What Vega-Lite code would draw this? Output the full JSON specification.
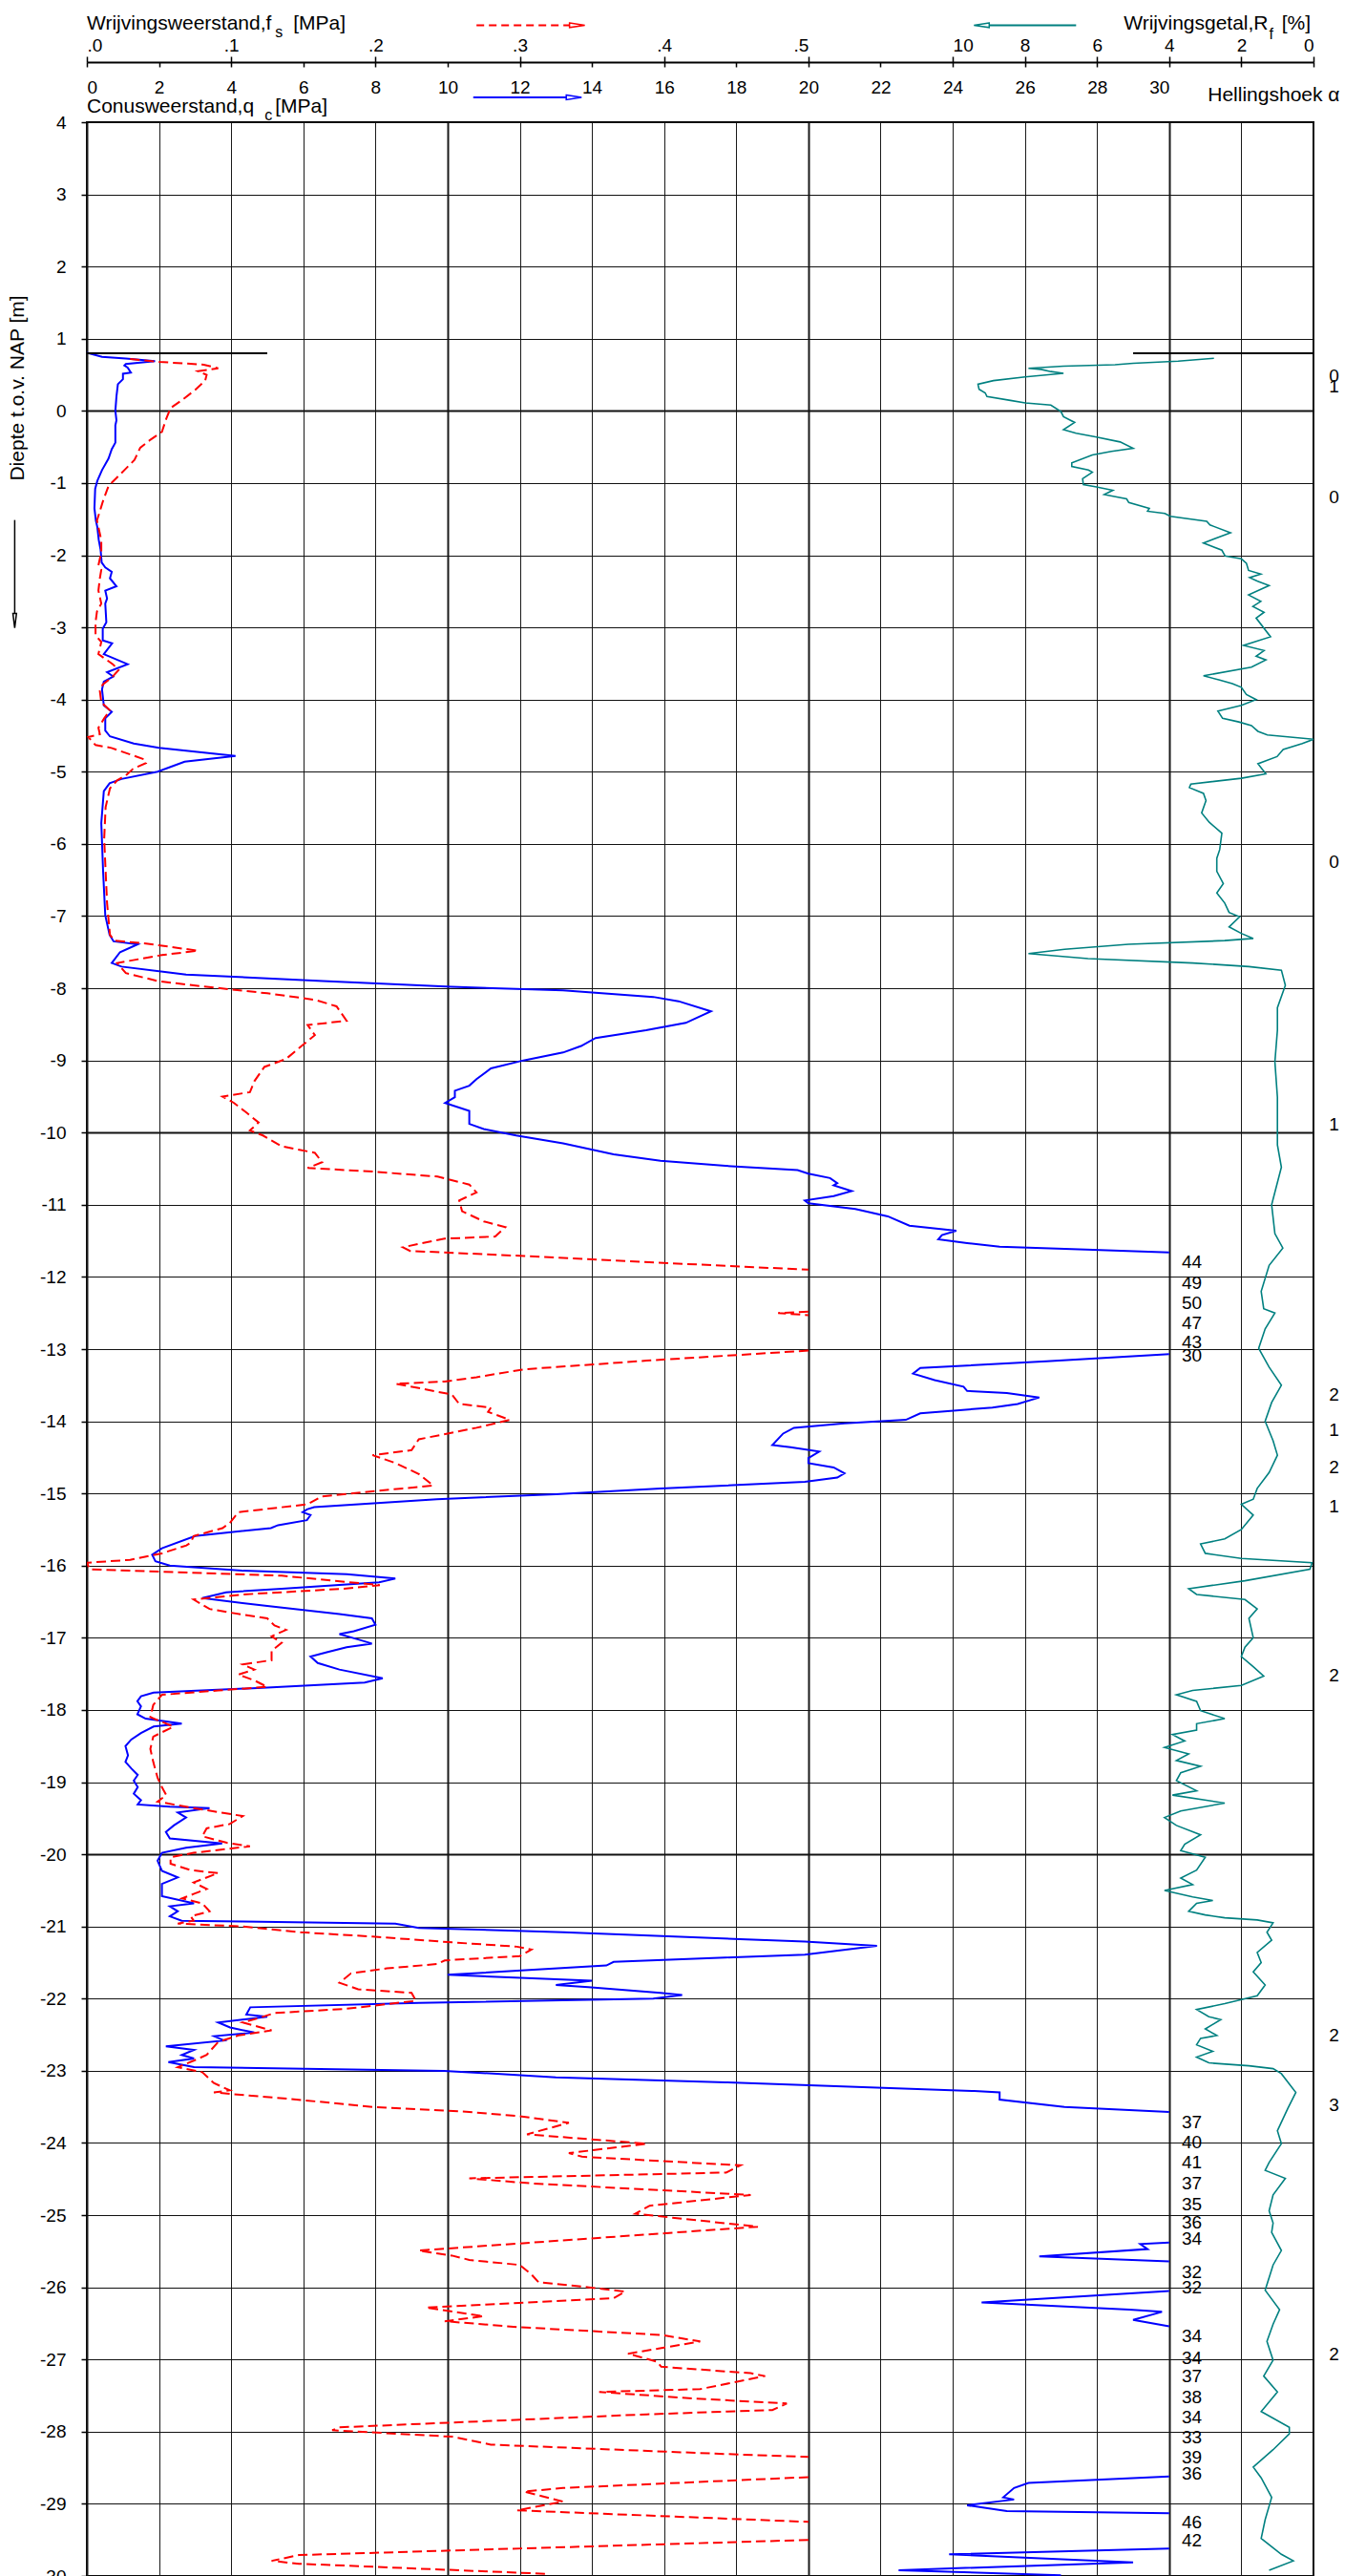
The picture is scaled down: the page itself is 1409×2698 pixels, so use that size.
{
  "$schema": "https://vega.github.io/schema/vega-lite/v6.json",
  "width": 1285,
  "height": 2570,
  "autosize": {"type": "none"},
  "padding": {"left": 91, "top": 128, "right": 33, "bottom": 0},
  "background": "white",
  "config": {
    "font": "Liberation Sans",
    "view": {"stroke": "black", "strokeWidth": 2},
    "axis": {"labelFont": "Liberation Sans", "labelColor": "black", "labelFontSize": 19, "titleFont": "Liberation Sans", "titleColor": "black", "titleFontWeight": "normal", "labelOverlap": false, "labelBound": false, "labelFlush": false},
    "text": {"font": "Liberation Sans", "color": "black"}
  },
  "datasets": {
    "qc": [
      {"d":0.806,"q":0,"s":1},{"d":0.75,"q":0.42,"s":1},{"d":0.727,"q":1.08,"s":1},{"d":0.69,"q":1.89,"s":1},{"d":0.65,"q":1.08,"s":1},{"d":0.63,"q":1.04,"s":1},{"d":0.6,"q":1.13,"s":1},{"d":0.53,"q":1.22,"s":1},{"d":0.515,"q":1.0,"s":1},{"d":0.44,"q":1.0,"s":1},{"d":0.37,"q":0.86,"s":1},{"d":0.2,"q":0.82,"s":1},{"d":0.0,"q":0.79,"s":1},{"d":-0.13,"q":0.82,"s":1},{"d":-0.2,"q":0.79,"s":1},{"d":-0.44,"q":0.79,"s":1},{"d":-0.53,"q":0.69,"s":1},{"d":-0.66,"q":0.6,"s":1},{"d":-0.82,"q":0.42,"s":1},{"d":-0.97,"q":0.29,"s":1},{"d":-1.08,"q":0.23,"s":1},{"d":-1.35,"q":0.21,"s":1},{"d":-1.52,"q":0.25,"s":1},{"d":-1.61,"q":0.29,"s":1},{"d":-1.79,"q":0.33,"s":1},{"d":-1.92,"q":0.38,"s":1},{"d":-2.1,"q":0.41,"s":1},{"d":-2.17,"q":0.51,"s":1},{"d":-2.23,"q":0.69,"s":1},{"d":-2.32,"q":0.64,"s":1},{"d":-2.43,"q":0.82,"s":1},{"d":-2.49,"q":0.51,"s":1},{"d":-2.6,"q":0.56,"s":1},{"d":-2.67,"q":0.51,"s":1},{"d":-2.93,"q":0.54,"s":1},{"d":-3.02,"q":0.44,"s":1},{"d":-3.18,"q":0.44,"s":1},{"d":-3.22,"q":0.7,"s":1},{"d":-3.37,"q":0.47,"s":1},{"d":-3.51,"q":1.13,"s":1},{"d":-3.62,"q":0.56,"s":1},{"d":-3.68,"q":0.73,"s":1},{"d":-3.75,"q":0.47,"s":1},{"d":-3.86,"q":0.42,"s":1},{"d":-4.08,"q":0.47,"s":1},{"d":-4.17,"q":0.69,"s":1},{"d":-4.26,"q":0.51,"s":1},{"d":-4.43,"q":0.51,"s":1},{"d":-4.51,"q":0.64,"s":1},{"d":-4.61,"q":1.3,"s":1},{"d":-4.67,"q":2.0,"s":1},{"d":-4.78,"q":4.12,"s":1},{"d":-4.86,"q":2.71,"s":1},{"d":-5.0,"q":1.96,"s":1},{"d":-5.1,"q":0.96,"s":1},{"d":-5.16,"q":0.63,"s":1},{"d":-5.27,"q":0.47,"s":1},{"d":-5.71,"q":0.4,"s":1},{"d":-6.38,"q":0.45,"s":1},{"d":-6.99,"q":0.51,"s":1},{"d":-7.26,"q":0.63,"s":1},{"d":-7.35,"q":0.74,"s":1},{"d":-7.39,"q":1.41,"s":1},{"d":-7.5,"q":0.92,"s":1},{"d":-7.65,"q":0.69,"s":1},{"d":-7.7,"q":0.96,"s":1},{"d":-7.81,"q":2.75,"s":1},{"d":-7.9,"q":6.54,"s":1},{"d":-7.98,"q":10.1,"s":1},{"d":-8.03,"q":13.2,"s":1},{"d":-8.12,"q":15.7,"s":1},{"d":-8.18,"q":16.4,"s":1},{"d":-8.32,"q":17.3,"s":1},{"d":-8.48,"q":16.6,"s":1},{"d":-8.58,"q":15.5,"s":1},{"d":-8.69,"q":14.1,"s":1},{"d":-8.8,"q":13.7,"s":1},{"d":-8.89,"q":13.2,"s":1},{"d":-9.0,"q":12.1,"s":1},{"d":-9.11,"q":11.2,"s":1},{"d":-9.26,"q":10.8,"s":1},{"d":-9.35,"q":10.6,"s":1},{"d":-9.42,"q":10.2,"s":1},{"d":-9.51,"q":10.2,"s":1},{"d":-9.59,"q":9.93,"s":1},{"d":-9.7,"q":10.6,"s":1},{"d":-9.88,"q":10.6,"s":1},{"d":-9.95,"q":11.0,"s":1},{"d":-10.04,"q":11.9,"s":1},{"d":-10.15,"q":13.2,"s":1},{"d":-10.3,"q":14.6,"s":1},{"d":-10.39,"q":15.9,"s":1},{"d":-10.46,"q":17.7,"s":1},{"d":-10.52,"q":19.7,"s":1},{"d":-10.57,"q":20.0,"s":1},{"d":-10.63,"q":20.6,"s":1},{"d":-10.7,"q":20.8,"s":1},{"d":-10.73,"q":20.7,"s":1},{"d":-10.81,"q":21.2,"s":1},{"d":-10.88,"q":20.7,"s":1},{"d":-10.94,"q":19.9,"s":1},{"d":-10.98,"q":20.0,"s":1},{"d":-11.06,"q":21.3,"s":1},{"d":-11.16,"q":22.2,"s":1},{"d":-11.29,"q":22.8,"s":1},{"d":-11.36,"q":24.1,"s":1},{"d":-11.42,"q":23.7,"s":1},{"d":-11.48,"q":23.6,"s":1},{"d":-11.53,"q":24.4,"s":1},{"d":-11.58,"q":25.3,"s":1},{"d":-11.62,"q":27.7,"s":1},{"d":-11.66,"q":30,"s":1},
      {"d":-13.07,"q":30,"s":2},{"d":-13.17,"q":26.6,"s":2},{"d":-13.26,"q":23.1,"s":2},{"d":-13.34,"q":22.9,"s":2},{"d":-13.43,"q":23.5,"s":2},{"d":-13.52,"q":24.3,"s":2},{"d":-13.58,"q":24.4,"s":2},{"d":-13.61,"q":25.5,"s":2},{"d":-13.67,"q":26.4,"s":2},{"d":-13.76,"q":25.8,"s":2},{"d":-13.81,"q":25.1,"s":2},{"d":-13.89,"q":23.1,"s":2},{"d":-13.98,"q":22.7,"s":2},{"d":-14.03,"q":21.0,"s":2},{"d":-14.09,"q":19.6,"s":2},{"d":-14.17,"q":19.3,"s":2},{"d":-14.33,"q":19.0,"s":2},{"d":-14.36,"q":19.5,"s":2},{"d":-14.42,"q":20.3,"s":2},{"d":-14.51,"q":20.0,"s":2},{"d":-14.58,"q":20.0,"s":2},{"d":-14.64,"q":20.7,"s":2},{"d":-14.72,"q":21.0,"s":2},{"d":-14.78,"q":20.8,"s":2},{"d":-14.84,"q":19.9,"s":2},{"d":-14.93,"q":15.9,"s":2},{"d":-15.01,"q":13.0,"s":2},{"d":-15.08,"q":9.7,"s":2},{"d":-15.19,"q":6.3,"s":2},{"d":-15.22,"q":6.1,"s":2},{"d":-15.26,"q":5.98,"s":2},{"d":-15.3,"q":6.2,"s":2},{"d":-15.37,"q":6.1,"s":2},{"d":-15.44,"q":5.3,"s":2},{"d":-15.48,"q":5.1,"s":2},{"d":-15.59,"q":3.0,"s":2},{"d":-15.76,"q":2.08,"s":2},{"d":-15.85,"q":1.81,"s":2},{"d":-15.94,"q":1.9,"s":2},{"d":-16.0,"q":2.3,"s":2},{"d":-16.07,"q":4.3,"s":2},{"d":-16.12,"q":7.2,"s":2},{"d":-16.18,"q":8.55,"s":2},{"d":-16.23,"q":8.1,"s":2},{"d":-16.32,"q":5.4,"s":2},{"d":-16.37,"q":3.86,"s":2},{"d":-16.45,"q":3.2,"s":2},{"d":-16.56,"q":5.0,"s":2},{"d":-16.67,"q":7.0,"s":2},{"d":-16.73,"q":7.9,"s":2},{"d":-16.82,"q":8.0,"s":2},{"d":-16.91,"q":7.4,"s":2},{"d":-16.95,"q":7.0,"s":2},{"d":-17.02,"q":7.5,"s":2},{"d":-17.08,"q":7.9,"s":2},{"d":-17.13,"q":7.2,"s":2},{"d":-17.2,"q":6.65,"s":2},{"d":-17.26,"q":6.2,"s":2},{"d":-17.35,"q":6.4,"s":2},{"d":-17.44,"q":7.0,"s":2},{"d":-17.56,"q":8.2,"s":2},{"d":-17.62,"q":7.7,"s":2},{"d":-17.69,"q":5.0,"s":2},{"d":-17.76,"q":1.85,"s":2},{"d":-17.81,"q":1.5,"s":2},{"d":-17.88,"q":1.4,"s":2},{"d":-17.95,"q":1.5,"s":2},{"d":-18.06,"q":1.4,"s":2},{"d":-18.12,"q":1.63,"s":2},{"d":-18.19,"q":2.63,"s":2},{"d":-18.23,"q":1.85,"s":2},{"d":-18.32,"q":1.5,"s":2},{"d":-18.41,"q":1.23,"s":2},{"d":-18.5,"q":1.07,"s":2},{"d":-18.63,"q":1.14,"s":2},{"d":-18.72,"q":1.07,"s":2},{"d":-18.81,"q":1.23,"s":2},{"d":-18.9,"q":1.41,"s":2},{"d":-18.98,"q":1.3,"s":2},{"d":-19.07,"q":1.41,"s":2},{"d":-19.16,"q":1.3,"s":2},{"d":-19.25,"q":1.5,"s":2},{"d":-19.31,"q":1.41,"s":2},{"d":-19.34,"q":2.3,"s":2},{"d":-19.36,"q":3.4,"s":2},{"d":-19.42,"q":2.52,"s":2},{"d":-19.49,"q":2.75,"s":2},{"d":-19.6,"q":2.41,"s":2},{"d":-19.69,"q":2.19,"s":2},{"d":-19.78,"q":2.3,"s":2},{"d":-19.85,"q":3.75,"s":2},{"d":-19.91,"q":2.75,"s":2},{"d":-19.98,"q":2.08,"s":2},{"d":-20.09,"q":1.96,"s":2},{"d":-20.23,"q":2.08,"s":2},{"d":-20.32,"q":2.52,"s":2},{"d":-20.41,"q":2.08,"s":2},{"d":-20.58,"q":2.08,"s":2},{"d":-20.68,"q":2.97,"s":2},{"d":-20.72,"q":2.3,"s":2},{"d":-20.79,"q":2.52,"s":2},{"d":-20.86,"q":2.3,"s":2},{"d":-20.92,"q":2.63,"s":2},{"d":-20.93,"q":4.3,"s":2},{"d":-20.96,"q":8.55,"s":2},{"d":-21.02,"q":9.2,"s":2},{"d":-21.08,"q":13.2,"s":2},{"d":-21.15,"q":16.8,"s":2},{"d":-21.21,"q":19.9,"s":2},{"d":-21.27,"q":21.9,"s":2},{"d":-21.39,"q":19.9,"s":2},{"d":-21.43,"q":17.7,"s":2},{"d":-21.49,"q":14.6,"s":2},{"d":-21.54,"q":14.4,"s":2},{"d":-21.67,"q":10.0,"s":2},{"d":-21.75,"q":14.0,"s":2},{"d":-21.81,"q":13.0,"s":2},{"d":-21.84,"q":13.9,"s":2},{"d":-21.92,"q":15.9,"s":2},{"d":-21.95,"q":16.5,"s":2},{"d":-22.0,"q":15.7,"s":2},{"d":-22.06,"q":9.2,"s":2},{"d":-22.12,"q":4.53,"s":2},{"d":-22.22,"q":4.42,"s":2},{"d":-22.25,"q":5.0,"s":2},{"d":-22.28,"q":4.5,"s":2},{"d":-22.33,"q":3.64,"s":2},{"d":-22.4,"q":3.97,"s":2},{"d":-22.47,"q":4.64,"s":2},{"d":-22.52,"q":3.53,"s":2},{"d":-22.58,"q":3.8,"s":2},{"d":-22.66,"q":2.19,"s":2},{"d":-22.71,"q":2.97,"s":2},{"d":-22.78,"q":2.63,"s":2},{"d":-22.83,"q":2.97,"s":2},{"d":-22.88,"q":2.26,"s":2},{"d":-22.95,"q":2.97,"s":2},{"d":-23.0,"q":9.9,"s":2},{"d":-23.09,"q":13.0,"s":2},{"d":-23.16,"q":17.7,"s":2},{"d":-23.28,"q":24.6,"s":2},{"d":-23.3,"q":25.3,"s":2},{"d":-23.4,"q":25.3,"s":2},{"d":-23.5,"q":27.1,"s":2},{"d":-23.57,"q":30,"s":2},
      {"d":-25.38,"q":30,"s":3},{"d":-25.4,"q":29.2,"s":3},{"d":-25.47,"q":29.4,"s":3},{"d":-25.57,"q":26.4,"s":3},{"d":-25.64,"q":30,"s":3},
      {"d":-26.05,"q":30,"s":4},{"d":-26.21,"q":24.8,"s":4},{"d":-26.31,"q":28.9,"s":4},{"d":-26.34,"q":29.8,"s":4},{"d":-26.45,"q":29.0,"s":4},{"d":-26.54,"q":30,"s":4},
      {"d":-28.62,"q":30,"s":5},{"d":-28.71,"q":26.1,"s":5},{"d":-28.78,"q":25.7,"s":5},{"d":-28.91,"q":25.4,"s":5},{"d":-28.94,"q":25.7,"s":5},{"d":-29.02,"q":24.4,"s":5},{"d":-29.1,"q":25.5,"s":5},{"d":-29.13,"q":30,"s":5},
      {"d":-29.62,"q":30,"s":6},{"d":-29.7,"q":23.9,"s":6},{"d":-29.81,"q":29.0,"s":6},{"d":-29.92,"q":22.5,"s":6},{"d":-29.99,"q":27,"s":6}
    ],
    "fs": [
      {"d":0.72,"f":0.03,"s":1},{"d":0.68,"f":0.05,"s":1},{"d":0.64,"f":0.081,"s":1},{"d":0.59,"f":0.091,"s":1},{"d":0.55,"f":0.077,"s":1},{"d":0.5,"f":0.083,"s":1},{"d":0.42,"f":0.082,"s":1},{"d":0.29,"f":0.075,"s":1},{"d":0.15,"f":0.066,"s":1},{"d":0.04,"f":0.058,"s":1},{"d":-0.11,"f":0.055,"s":1},{"d":-0.29,"f":0.052,"s":1},{"d":-0.4,"f":0.044,"s":1},{"d":-0.51,"f":0.037,"s":1},{"d":-0.68,"f":0.033,"s":1},{"d":-0.82,"f":0.026,"s":1},{"d":-1.04,"f":0.015,"s":1},{"d":-1.26,"f":0.011,"s":1},{"d":-1.52,"f":0.007,"s":1},{"d":-1.79,"f":0.01,"s":1},{"d":-1.96,"f":0.01,"s":1},{"d":-2.14,"f":0.008,"s":1},{"d":-2.2,"f":0.01,"s":1},{"d":-2.32,"f":0.009,"s":1},{"d":-2.49,"f":0.008,"s":1},{"d":-2.67,"f":0.01,"s":1},{"d":-2.78,"f":0.007,"s":1},{"d":-2.93,"f":0.006,"s":1},{"d":-3.11,"f":0.006,"s":1},{"d":-3.2,"f":0.01,"s":1},{"d":-3.37,"f":0.008,"s":1},{"d":-3.51,"f":0.018,"s":1},{"d":-3.59,"f":0.022,"s":1},{"d":-3.7,"f":0.017,"s":1},{"d":-3.79,"f":0.011,"s":1},{"d":-3.88,"f":0.009,"s":1},{"d":-4.04,"f":0.01,"s":1},{"d":-4.15,"f":0.016,"s":1},{"d":-4.26,"f":0.012,"s":1},{"d":-4.39,"f":0.008,"s":1},{"d":-4.48,"f":0.009,"s":1},{"d":-4.52,"f":0.001,"s":1},{"d":-4.63,"f":0.006,"s":1},{"d":-4.67,"f":0.017,"s":1},{"d":-4.78,"f":0.033,"s":1},{"d":-4.83,"f":0.04,"s":1},{"d":-4.88,"f":0.041,"s":1},{"d":-4.96,"f":0.032,"s":1},{"d":-5.05,"f":0.027,"s":1},{"d":-5.12,"f":0.021,"s":1},{"d":-5.23,"f":0.016,"s":1},{"d":-5.49,"f":0.013,"s":1},{"d":-5.93,"f":0.012,"s":1},{"d":-6.38,"f":0.013,"s":1},{"d":-6.82,"f":0.014,"s":1},{"d":-7.26,"f":0.016,"s":1},{"d":-7.34,"f":0.019,"s":1},{"d":-7.38,"f":0.041,"s":1},{"d":-7.48,"f":0.077,"s":1},{"d":-7.54,"f":0.052,"s":1},{"d":-7.65,"f":0.021,"s":1},{"d":-7.79,"f":0.027,"s":1},{"d":-7.9,"f":0.049,"s":1},{"d":-7.96,"f":0.074,"s":1},{"d":-8.07,"f":0.125,"s":1},{"d":-8.16,"f":0.158,"s":1},{"d":-8.25,"f":0.173,"s":1},{"d":-8.45,"f":0.18,"s":1},{"d":-8.51,"f":0.153,"s":1},{"d":-8.65,"f":0.158,"s":1},{"d":-8.78,"f":0.15,"s":1},{"d":-8.98,"f":0.138,"s":1},{"d":-9.09,"f":0.123,"s":1},{"d":-9.29,"f":0.116,"s":1},{"d":-9.44,"f":0.113,"s":1},{"d":-9.5,"f":0.094,"s":1},{"d":-9.59,"f":0.102,"s":1},{"d":-9.73,"f":0.111,"s":1},{"d":-9.86,"f":0.119,"s":1},{"d":-9.97,"f":0.113,"s":1},{"d":-10.04,"f":0.122,"s":1},{"d":-10.19,"f":0.135,"s":1},{"d":-10.28,"f":0.158,"s":1},{"d":-10.41,"f":0.163,"s":1},{"d":-10.49,"f":0.153,"s":1},{"d":-10.54,"f":0.198,"s":1},{"d":-10.61,"f":0.243,"s":1},{"d":-10.72,"f":0.265,"s":1},{"d":-10.83,"f":0.27,"s":1},{"d":-10.94,"f":0.258,"s":1},{"d":-11.09,"f":0.26,"s":1},{"d":-11.23,"f":0.275,"s":1},{"d":-11.31,"f":0.29,"s":1},{"d":-11.44,"f":0.283,"s":1},{"d":-11.47,"f":0.248,"s":1},{"d":-11.54,"f":0.23,"s":1},{"d":-11.59,"f":0.219,"s":1},{"d":-11.64,"f":0.224,"s":1},{"d":-11.71,"f":0.303,"s":1},{"d":-11.82,"f":0.415,"s":1},{"d":-11.9,"f":0.5,"s":1},
      {"d":-12.48,"f":0.5,"s":2},{"d":-12.5,"f":0.479,"s":2},{"d":-12.53,"f":0.5,"s":2},
      {"d":-13.02,"f":0.5,"s":3},{"d":-13.16,"f":0.388,"s":3},{"d":-13.28,"f":0.303,"s":3},{"d":-13.39,"f":0.27,"s":3},{"d":-13.45,"f":0.248,"s":3},{"d":-13.48,"f":0.214,"s":3},{"d":-13.54,"f":0.23,"s":3},{"d":-13.63,"f":0.253,"s":3},{"d":-13.76,"f":0.258,"s":3},{"d":-13.81,"f":0.28,"s":3},{"d":-13.87,"f":0.278,"s":3},{"d":-13.98,"f":0.293,"s":3},{"d":-14.09,"f":0.27,"s":3},{"d":-14.25,"f":0.23,"s":3},{"d":-14.4,"f":0.225,"s":3},{"d":-14.47,"f":0.198,"s":3},{"d":-14.58,"f":0.214,"s":3},{"d":-14.73,"f":0.23,"s":3},{"d":-14.89,"f":0.24,"s":3},{"d":-14.93,"f":0.219,"s":3},{"d":-15.04,"f":0.163,"s":3},{"d":-15.15,"f":0.153,"s":3},{"d":-15.26,"f":0.105,"s":3},{"d":-15.41,"f":0.099,"s":3},{"d":-15.48,"f":0.094,"s":3},{"d":-15.59,"f":0.074,"s":3},{"d":-15.68,"f":0.072,"s":3},{"d":-15.72,"f":0.069,"s":3},{"d":-15.83,"f":0.052,"s":3},{"d":-15.92,"f":0.03,"s":3},{"d":-15.96,"f":0.0,"s":3},{"d":-16.05,"f":0.002,"s":3},{"d":-16.14,"f":0.135,"s":3},{"d":-16.27,"f":0.203,"s":3},{"d":-16.32,"f":0.178,"s":3},{"d":-16.4,"f":0.108,"s":3},{"d":-16.47,"f":0.074,"s":3},{"d":-16.6,"f":0.085,"s":3},{"d":-16.65,"f":0.099,"s":3},{"d":-16.73,"f":0.125,"s":3},{"d":-16.83,"f":0.13,"s":3},{"d":-16.89,"f":0.138,"s":3},{"d":-16.98,"f":0.128,"s":3},{"d":-17.07,"f":0.135,"s":3},{"d":-17.18,"f":0.128,"s":3},{"d":-17.31,"f":0.128,"s":3},{"d":-17.37,"f":0.108,"s":3},{"d":-17.44,"f":0.116,"s":3},{"d":-17.51,"f":0.105,"s":3},{"d":-17.59,"f":0.116,"s":3},{"d":-17.68,"f":0.125,"s":3},{"d":-17.73,"f":0.091,"s":3},{"d":-17.79,"f":0.052,"s":3},{"d":-17.93,"f":0.046,"s":3},{"d":-18.1,"f":0.044,"s":3},{"d":-18.23,"f":0.06,"s":3},{"d":-18.37,"f":0.046,"s":3},{"d":-18.54,"f":0.044,"s":3},{"d":-18.72,"f":0.046,"s":3},{"d":-18.94,"f":0.049,"s":3},{"d":-19.07,"f":0.052,"s":3},{"d":-19.18,"f":0.055,"s":3},{"d":-19.27,"f":0.049,"s":3},{"d":-19.36,"f":0.074,"s":3},{"d":-19.47,"f":0.108,"s":3},{"d":-19.58,"f":0.099,"s":3},{"d":-19.64,"f":0.083,"s":3},{"d":-19.75,"f":0.08,"s":3},{"d":-19.84,"f":0.097,"s":3},{"d":-19.89,"f":0.113,"s":3},{"d":-19.98,"f":0.074,"s":3},{"d":-20.04,"f":0.058,"s":3},{"d":-20.13,"f":0.058,"s":3},{"d":-20.22,"f":0.072,"s":3},{"d":-20.26,"f":0.091,"s":3},{"d":-20.39,"f":0.074,"s":3},{"d":-20.48,"f":0.083,"s":3},{"d":-20.55,"f":0.074,"s":3},{"d":-20.61,"f":0.066,"s":3},{"d":-20.68,"f":0.08,"s":3},{"d":-20.79,"f":0.085,"s":3},{"d":-20.86,"f":0.072,"s":3},{"d":-20.92,"f":0.074,"s":3},{"d":-20.96,"f":0.063,"s":3},{"d":-21.0,"f":0.108,"s":3},{"d":-21.08,"f":0.148,"s":3},{"d":-21.14,"f":0.198,"s":3},{"d":-21.22,"f":0.253,"s":3},{"d":-21.28,"f":0.298,"s":3},{"d":-21.32,"f":0.308,"s":3},{"d":-21.41,"f":0.3,"s":3},{"d":-21.47,"f":0.248,"s":3},{"d":-21.52,"f":0.243,"s":3},{"d":-21.58,"f":0.208,"s":3},{"d":-21.65,"f":0.183,"s":3},{"d":-21.78,"f":0.175,"s":3},{"d":-21.87,"f":0.188,"s":3},{"d":-21.92,"f":0.225,"s":3},{"d":-22.03,"f":0.228,"s":3},{"d":-22.14,"f":0.18,"s":3},{"d":-22.2,"f":0.13,"s":3},{"d":-22.27,"f":0.119,"s":3},{"d":-22.33,"f":0.108,"s":3},{"d":-22.44,"f":0.128,"s":3},{"d":-22.51,"f":0.105,"s":3},{"d":-22.6,"f":0.091,"s":3},{"d":-22.78,"f":0.083,"s":3},{"d":-22.86,"f":0.074,"s":3},{"d":-22.95,"f":0.063,"s":3},{"d":-23.02,"f":0.08,"s":3},{"d":-23.17,"f":0.088,"s":3},{"d":-23.27,"f":0.099,"s":3},{"d":-23.3,"f":0.088,"s":3},{"d":-23.39,"f":0.141,"s":3},{"d":-23.5,"f":0.198,"s":3},{"d":-23.57,"f":0.265,"s":3},{"d":-23.63,"f":0.3,"s":3},{"d":-23.72,"f":0.334,"s":3},{"d":-23.88,"f":0.305,"s":3},{"d":-24.01,"f":0.388,"s":3},{"d":-24.14,"f":0.334,"s":3},{"d":-24.19,"f":0.343,"s":3},{"d":-24.31,"f":0.453,"s":3},{"d":-24.41,"f":0.443,"s":3},{"d":-24.49,"f":0.265,"s":3},{"d":-24.56,"f":0.308,"s":3},{"d":-24.72,"f":0.46,"s":3},{"d":-24.87,"f":0.39,"s":3},{"d":-24.98,"f":0.38,"s":3},{"d":-25.16,"f":0.465,"s":3},{"d":-25.49,"f":0.23,"s":3},{"d":-25.56,"f":0.253,"s":3},{"d":-25.62,"f":0.265,"s":3},{"d":-25.69,"f":0.3,"s":3},{"d":-25.82,"f":0.308,"s":3},{"d":-25.93,"f":0.313,"s":3},{"d":-26.0,"f":0.348,"s":3},{"d":-26.06,"f":0.373,"s":3},{"d":-26.15,"f":0.365,"s":3},{"d":-26.28,"f":0.235,"s":3},{"d":-26.4,"f":0.275,"s":3},{"d":-26.47,"f":0.248,"s":3},{"d":-26.55,"f":0.298,"s":3},{"d":-26.66,"f":0.398,"s":3},{"d":-26.75,"f":0.425,"s":3},{"d":-26.92,"f":0.375,"s":3},{"d":-27.03,"f":0.395,"s":3},{"d":-27.1,"f":0.398,"s":3},{"d":-27.19,"f":0.46,"s":3},{"d":-27.23,"f":0.47,"s":3},{"d":-27.41,"f":0.425,"s":3},{"d":-27.45,"f":0.355,"s":3},{"d":-27.54,"f":0.42,"s":3},{"d":-27.61,"f":0.485,"s":3},{"d":-27.7,"f":0.475,"s":3},{"d":-27.76,"f":0.388,"s":3},{"d":-27.94,"f":0.175,"s":3},{"d":-27.98,"f":0.17,"s":3},{"d":-28.07,"f":0.253,"s":3},{"d":-28.18,"f":0.28,"s":3},{"d":-28.31,"f":0.443,"s":3},{"d":-28.35,"f":0.5,"s":3},
      {"d":-28.63,"f":0.5,"s":4},{"d":-28.78,"f":0.33,"s":4},{"d":-28.83,"f":0.303,"s":4},{"d":-28.97,"f":0.33,"s":4},{"d":-29.09,"f":0.298,"s":4},{"d":-29.25,"f":0.5,"s":4},
      {"d":-29.5,"f":0.5,"s":5},{"d":-29.71,"f":0.147,"s":5},{"d":-29.79,"f":0.128,"s":5},{"d":-29.83,"f":0.147,"s":5},{"d":-29.97,"f":0.318,"s":5}
    ],
    "rf": [
      {"d":0.73,"r":2.76},{"d":0.69,"r":3.75},{"d":0.66,"r":5.0},{"d":0.64,"r":5.5},{"d":0.62,"r":6.93},{"d":0.59,"r":7.9},{"d":0.575,"r":7.55},{"d":0.545,"r":7.28},{"d":0.52,"r":6.93},{"d":0.47,"r":7.99},{"d":0.42,"r":8.87},{"d":0.37,"r":9.3},{"d":0.3,"r":9.27},{"d":0.25,"r":9.1},{"d":0.2,"r":9.05},{"d":0.145,"r":8.4},{"d":0.11,"r":7.99},{"d":0.08,"r":7.28},{"d":-0.01,"r":7.0},{"d":-0.08,"r":6.93},{"d":-0.16,"r":6.62},{"d":-0.26,"r":6.93},{"d":-0.31,"r":6.58},{"d":-0.36,"r":6.05},{"d":-0.43,"r":5.36},{"d":-0.52,"r":5.0},{"d":-0.56,"r":5.6},{"d":-0.61,"r":6.13},{"d":-0.72,"r":6.7},{"d":-0.77,"r":6.7},{"d":-0.82,"r":6.24},{"d":-0.85,"r":6.13},{"d":-0.94,"r":6.4},{"d":-1.02,"r":6.38},{"d":-1.05,"r":6.05},{"d":-1.1,"r":5.56},{"d":-1.16,"r":5.8},{"d":-1.22,"r":5.18},{"d":-1.27,"r":5.12},{"d":-1.35,"r":4.55},{"d":-1.39,"r":4.6},{"d":-1.42,"r":4.12},{"d":-1.46,"r":3.97},{"d":-1.53,"r":2.96},{"d":-1.58,"r":2.87},{"d":-1.69,"r":2.3},{"d":-1.83,"r":3.05},{"d":-1.93,"r":2.54},{"d":-2.01,"r":2.45},{"d":-2.05,"r":2.0},{"d":-2.11,"r":1.86},{"d":-2.21,"r":1.8},{"d":-2.26,"r":1.46},{"d":-2.31,"r":1.77},{"d":-2.36,"r":1.55},{"d":-2.42,"r":1.23},{"d":-2.55,"r":1.8},{"d":-2.64,"r":1.46},{"d":-2.71,"r":1.68},{"d":-2.79,"r":1.37},{"d":-2.87,"r":1.59},{"d":-3.13,"r":1.19},{"d":-3.25,"r":1.94},{"d":-3.32,"r":1.37},{"d":-3.4,"r":1.59},{"d":-3.45,"r":1.32},{"d":-3.55,"r":1.72},{"d":-3.67,"r":3.05},{"d":-3.73,"r":2.6},{"d":-3.78,"r":2.25},{"d":-3.83,"r":2.0},{"d":-3.93,"r":1.86},{"d":-4.0,"r":1.59},{"d":-4.08,"r":2.0},{"d":-4.16,"r":2.65},{"d":-4.26,"r":2.52},{"d":-4.31,"r":2.07},{"d":-4.36,"r":1.72},{"d":-4.44,"r":1.54},{"d":-4.49,"r":1.28},{"d":-4.55,"r":0.0},{"d":-4.61,"r":0.31},{"d":-4.69,"r":0.84},{"d":-4.79,"r":1.01},{"d":-4.89,"r":1.54},{"d":-5.03,"r":1.32},{"d":-5.09,"r":2.0},{"d":-5.17,"r":3.4},{"d":-5.22,"r":3.44},{"d":-5.3,"r":3.05},{"d":-5.4,"r":2.98},{"d":-5.57,"r":3.1},{"d":-5.7,"r":2.89},{"d":-5.85,"r":2.54},{"d":-6.08,"r":2.6},{"d":-6.2,"r":2.68},{"d":-6.38,"r":2.68},{"d":-6.55,"r":2.5},{"d":-6.68,"r":2.68},{"d":-6.82,"r":2.46},{"d":-6.95,"r":2.34},{"d":-7.01,"r":2.05},{"d":-7.15,"r":2.34},{"d":-7.24,"r":2.0},{"d":-7.31,"r":1.67},{"d":-7.34,"r":2.46},{"d":-7.39,"r":5.13},{"d":-7.46,"r":6.9},{"d":-7.52,"r":7.9},{"d":-7.59,"r":6.25},{"d":-7.65,"r":3.35},{"d":-7.7,"r":1.79},{"d":-7.75,"r":0.89},{"d":-7.96,"r":0.78},{"d":-8.27,"r":1.0},{"d":-8.58,"r":1.0},{"d":-9.02,"r":1.07},{"d":-9.51,"r":1.0},{"d":-10.17,"r":1.0},{"d":-10.48,"r":0.89},{"d":-11.0,"r":1.16},{"d":-11.4,"r":1.07},{"d":-11.6,"r":0.85},{"d":-11.84,"r":1.23},{"d":-12.2,"r":1.45},{"d":-12.44,"r":1.38},{"d":-12.5,"r":1.07},{"d":-12.72,"r":1.34},{"d":-12.99,"r":1.52},{"d":-13.25,"r":1.23},{"d":-13.5,"r":0.89},{"d":-13.74,"r":1.16},{"d":-14.0,"r":1.34},{"d":-14.27,"r":1.12},{"d":-14.47,"r":1.0},{"d":-14.71,"r":1.23},{"d":-14.93,"r":1.56},{"d":-15.08,"r":1.67},{"d":-15.15,"r":2.0},{"d":-15.3,"r":1.67},{"d":-15.5,"r":2.0},{"d":-15.63,"r":2.46},{"d":-15.7,"r":3.13},{"d":-15.83,"r":3.0},{"d":-15.9,"r":2.0},{"d":-15.96,"r":0.04},{"d":-16.05,"r":0.1},{"d":-16.21,"r":1.9},{"d":-16.32,"r":3.46},{"d":-16.4,"r":3.24},{"d":-16.47,"r":1.9},{"d":-16.6,"r":1.56},{"d":-16.73,"r":1.79},{"d":-17.0,"r":1.67},{"d":-17.13,"r":1.9},{"d":-17.26,"r":2.0},{"d":-17.4,"r":1.67},{"d":-17.53,"r":1.38},{"d":-17.66,"r":2.0},{"d":-17.73,"r":3.35},{"d":-17.79,"r":3.8},{"d":-17.88,"r":3.24},{"d":-18.01,"r":3.13},{"d":-18.12,"r":2.46},{"d":-18.19,"r":3.24},{"d":-18.28,"r":3.24},{"d":-18.34,"r":3.91},{"d":-18.43,"r":3.57},{"d":-18.52,"r":4.13},{"d":-18.61,"r":3.46},{"d":-18.7,"r":3.8},{"d":-18.78,"r":3.13},{"d":-18.87,"r":3.68},{"d":-18.98,"r":3.8},{"d":-19.12,"r":3.24},{"d":-19.18,"r":3.91},{"d":-19.29,"r":2.46},{"d":-19.4,"r":3.68},{"d":-19.49,"r":4.13},{"d":-19.6,"r":3.8},{"d":-19.73,"r":3.13},{"d":-19.86,"r":3.57},{"d":-19.95,"r":3.68},{"d":-20.04,"r":3.0},{"d":-20.22,"r":3.24},{"d":-20.33,"r":3.68},{"d":-20.42,"r":3.35},{"d":-20.5,"r":4.13},{"d":-20.59,"r":3.35},{"d":-20.64,"r":2.79},{"d":-20.68,"r":3.24},{"d":-20.79,"r":3.46},{"d":-20.84,"r":3.0},{"d":-20.88,"r":2.46},{"d":-20.91,"r":1.56},{"d":-20.95,"r":1.12},{"d":-21.08,"r":1.29},{"d":-21.19,"r":1.16},{"d":-21.36,"r":1.56},{"d":-21.5,"r":1.45},{"d":-21.63,"r":1.67},{"d":-21.81,"r":1.34},{"d":-21.96,"r":1.56},{"d":-22.07,"r":2.46},{"d":-22.15,"r":3.24},{"d":-22.25,"r":2.9},{"d":-22.29,"r":2.57},{"d":-22.42,"r":3.0},{"d":-22.51,"r":2.68},{"d":-22.55,"r":3.13},{"d":-22.64,"r":3.24},{"d":-22.73,"r":2.79},{"d":-22.81,"r":3.24},{"d":-22.89,"r":2.9},{"d":-22.93,"r":1.79},{"d":-22.97,"r":1.12},{"d":-23.04,"r":0.89},{"d":-23.3,"r":0.49},{"d":-23.52,"r":0.71},{"d":-23.83,"r":1.0},{"d":-24.01,"r":0.89},{"d":-24.27,"r":1.23},{"d":-24.38,"r":1.34},{"d":-24.49,"r":0.78},{"d":-24.72,"r":1.12},{"d":-24.94,"r":1.23},{"d":-25.11,"r":1.12},{"d":-25.24,"r":1.16},{"d":-25.49,"r":0.89},{"d":-25.69,"r":1.12},{"d":-26.04,"r":1.34},{"d":-26.31,"r":0.94},{"d":-26.51,"r":1.12},{"d":-26.75,"r":1.29},{"d":-27.01,"r":1.12},{"d":-27.23,"r":1.38},{"d":-27.45,"r":1.0},{"d":-27.72,"r":1.45},{"d":-27.94,"r":0.67},{"d":-28.03,"r":0.67},{"d":-28.25,"r":1.12},{"d":-28.49,"r":1.67},{"d":-28.64,"r":1.45},{"d":-28.91,"r":1.16},{"d":-29.22,"r":1.34},{"d":-29.48,"r":1.45},{"d":-29.7,"r":0.89},{"d":-29.79,"r":0.56},{"d":-29.92,"r":1.23}
    ],
    "over": [
      {"d":-11.8,"t":"44"},{"d":-12.09,"t":"49"},{"d":-12.36,"t":"50"},{"d":-12.64,"t":"47"},{"d":-12.91,"t":"43"},{"d":-13.09,"t":"30"},{"d":-23.72,"t":"37"},{"d":-24.0,"t":"40"},{"d":-24.27,"t":"41"},{"d":-24.56,"t":"37"},{"d":-24.85,"t":"35"},{"d":-25.11,"t":"36"},{"d":-25.33,"t":"34"},{"d":-25.79,"t":"32"},{"d":-26.01,"t":"32"},{"d":-26.68,"t":"34"},{"d":-26.98,"t":"34"},{"d":-27.24,"t":"37"},{"d":-27.53,"t":"38"},{"d":-27.8,"t":"34"},{"d":-28.08,"t":"33"},{"d":-28.36,"t":"39"},{"d":-28.59,"t":"36"},{"d":-29.26,"t":"46"},{"d":-29.51,"t":"42"}
    ],
    "hk": [
      {"d":0.48,"t":"0"},{"d":0.33,"t":"1"},{"d":-1.2,"t":"0"},{"d":-6.25,"t":"0"},{"d":-9.89,"t":"1"},{"d":-13.64,"t":"2"},{"d":-14.12,"t":"1"},{"d":-14.64,"t":"2"},{"d":-15.18,"t":"1"},{"d":-17.52,"t":"2"},{"d":-22.51,"t":"2"},{"d":-23.48,"t":"3"},{"d":-26.93,"t":"2"}
    ],
    "hdr": [
      {"t":"Wrijvingsweerstand,f","x":0,"d":5.278},{"t":"[MPa]","x":5.72,"d":5.278},{"t":"Conusweerstand,q","x":0,"d":4.132},{"t":"[MPa]","x":5.22,"d":4.132},{"t":"Wrijvingsgetal,R","x":28.74,"d":5.278},{"t":"[%]","x":33.12,"d":5.278},{"t":"Hellingshoek α","x":31.07,"d":4.295}
    ],
    "sub": [
      {"t":"s","x":5.22,"d":5.177},{"t":"c","x":4.93,"d":4.03},{"t":"f","x":32.77,"d":5.146}
    ]
  },
  "layer": [
    {
      "layer": [
        {
          "data": {"name": "qc"},
          "mark": {"type": "line", "color": "#0000ff", "strokeWidth": 2, "clip": true},
          "encoding": {
            "x": {"field": "q", "type": "quantitative", "scale": {"domain": [0, 34], "nice": false, "zero": false},
              "axis": {"orient": "top", "offset": 63, "values": [0,1,2,3,4,5,6,7,8,9,10,11,12,13,14,15,16,17,18,19,20,21,22,23,24,25,26,27,28,29,30,31,32,33,34],
                "grid": true, "gridColor": "#1a1a1a", "gridWidth": {"condition": {"test": "datum.value % 10 === 0", "value": 2}, "value": 1},
                "domain": true, "domainColor": "black", "domainWidth": 2,
                "ticks": true, "tickSize": -5, "tickColor": "black", "tickWidth": 1.5,
                "tickOpacity": {"condition": {"test": "datum.value % 2 === 0", "value": 1}, "value": 0},
                "labelExpr": "datum.value % 2 === 0 && datum.value <= 30 ? datum.label : ''",
                "labelPadding": -27, "labelBaseline": "alphabetic", "labelFontSize": 19,
                "labelAlign": {"condition": [{"test": "datum.value === 0", "value": "left"}, {"test": "datum.value === 30", "value": "right"}], "value": "center"},
                "title": null}},
            "y": {"field": "d", "type": "quantitative", "scale": {"domain": [-30, 4], "nice": false, "zero": false},
              "axis": {"orient": "left", "values": [4,3.5,3,2.5,2,1.5,1,0.5,0,-0.5,-1,-1.5,-2,-2.5,-3,-3.5,-4,-4.5,-5,-5.5,-6,-6.5,-7,-7.5,-8,-8.5,-9,-9.5,-10,-10.5,-11,-11.5,-12,-12.5,-13,-13.5,-14,-14.5,-15,-15.5,-16,-16.5,-17,-17.5,-18,-18.5,-19,-19.5,-20,-20.5,-21,-21.5,-22,-22.5,-23,-23.5,-24,-24.5,-25,-25.5,-26,-26.5,-27,-27.5,-28,-28.5,-29,-29.5,-30],
                "grid": true,
                "gridColor": {"condition": {"test": "datum.value % 1 !== 0", "value": "#777777"}, "value": "#111111"},
                "gridWidth": {"condition": {"test": "datum.value % 10 === 0", "value": 2}, "value": 1},
                "domain": false, "tickSize": 6, "tickColor": "black", "tickWidth": 1.5,
                "tickOpacity": {"condition": {"test": "datum.value % 1 !== 0", "value": 0}, "value": 1},
                "labelExpr": "datum.value % 1 === 0 ? toString(datum.value) : ''",
                "labelPadding": 16, "labelFontSize": 19,
                "title": "Diepte t.o.v. NAP [m]", "titleFontSize": 21, "titleAngle": -90, "titleX": -67, "titleY": 278, "titleAlign": "center", "titleBaseline": "alphabetic"}},
            "detail": {"field": "s", "type": "nominal"},
            "order": {"field": "d", "sort": "descending"}
          }
        },
        {
          "data": {"values": [{"a": 0, "b": 5, "d": 0.8}, {"a": 29, "b": 34, "d": 0.8}]},
          "mark": {"type": "rule", "color": "black", "strokeWidth": 2},
          "encoding": {"x": {"field": "a", "type": "quantitative"}, "x2": {"field": "b"}, "y": {"field": "d", "type": "quantitative"}}
        },
        {
          "data": {"name": "over"},
          "mark": {"type": "text", "align": "left", "baseline": "middle", "fontSize": 19},
          "encoding": {"x": {"datum": 30.35, "type": "quantitative"}, "y": {"field": "d", "type": "quantitative"}, "text": {"field": "t"}}
        },
        {
          "data": {"name": "hk"},
          "mark": {"type": "text", "align": "left", "baseline": "middle", "fontSize": 19},
          "encoding": {"x": {"datum": 34.43, "type": "quantitative"}, "y": {"field": "d", "type": "quantitative"}, "text": {"field": "t"}}
        },
        {
          "data": {"name": "hdr"},
          "mark": {"type": "text", "align": "left", "baseline": "alphabetic", "fontSize": 21},
          "encoding": {"x": {"field": "x", "type": "quantitative"}, "y": {"field": "d", "type": "quantitative"}, "text": {"field": "t"}}
        },
        {
          "data": {"name": "sub"},
          "mark": {"type": "text", "align": "left", "baseline": "alphabetic", "fontSize": 16},
          "encoding": {"x": {"field": "x", "type": "quantitative"}, "y": {"field": "d", "type": "quantitative"}, "text": {"field": "t"}}
        },
        {
          "data": {"values": [{}]},
          "mark": {"type": "rule", "color": "#0000ff", "strokeWidth": 2},
          "encoding": {"x": {"datum": 10.71, "type": "quantitative"}, "x2": {"datum": 13.4}, "y": {"datum": 4.344, "type": "quantitative"}}
        },
        {
          "data": {"values": [{}]},
          "mark": {"type": "rule", "color": "#ff0000", "strokeWidth": 2, "strokeDash": [8, 5]},
          "encoding": {"x": {"datum": 10.8, "type": "quantitative"}, "x2": {"datum": 13.4}, "y": {"datum": 5.344, "type": "quantitative"}}
        },
        {
          "data": {"values": [{}]},
          "mark": {"type": "rule", "color": "#008080", "strokeWidth": 2},
          "encoding": {"x": {"datum": 27.42, "type": "quantitative"}, "x2": {"datum": 24.95}, "y": {"datum": 5.344, "type": "quantitative"}}
        },
        {
          "data": {"values": [{}]},
          "mark": {"type": "rule", "color": "black", "strokeWidth": 1.5},
          "encoding": {"x": {"datum": -2.0, "type": "quantitative"}, "y": {"datum": -1.512, "type": "quantitative"}, "y2": {"datum": -2.85}}
        },
        {
          "data": {"values": [{}]},
          "mark": {"type": "point", "shape": "M -1 -0.3 L 1 0 L -1 0.3 Z", "size": 256, "filled": true, "fill": "white", "stroke": "#0000ff", "strokeWidth": 1.5, "opacity": 1},
          "encoding": {"x": {"datum": 13.5, "type": "quantitative"}, "y": {"datum": 4.344, "type": "quantitative"}}
        },
        {
          "data": {"values": [{}]},
          "mark": {"type": "point", "shape": "M -1 -0.3 L 1 0 L -1 0.3 Z", "size": 256, "filled": true, "fill": "white", "stroke": "#ff0000", "strokeWidth": 1.5, "opacity": 1},
          "encoding": {"x": {"datum": 13.59, "type": "quantitative"}, "y": {"datum": 5.344, "type": "quantitative"}}
        },
        {
          "data": {"values": [{}]},
          "mark": {"type": "point", "shape": "M 1 -0.3 L -1 0 L 1 0.3 Z", "size": 256, "filled": true, "fill": "white", "stroke": "#008080", "strokeWidth": 1.5, "opacity": 1},
          "encoding": {"x": {"datum": 24.8, "type": "quantitative"}, "y": {"datum": 5.344, "type": "quantitative"}}
        },
        {
          "data": {"values": [{}]},
          "mark": {"type": "point", "shape": "M -0.25 -1 L 0 1 L 0.25 -1 Z", "size": 225, "filled": true, "fill": "white", "stroke": "black", "strokeWidth": 1.5, "opacity": 1},
          "encoding": {"x": {"datum": -2.0, "type": "quantitative"}, "y": {"datum": -2.907, "type": "quantitative"}}
        }
      ]
    },
    {
      "data": {"name": "fs"},
      "mark": {"type": "line", "color": "#ff0000", "strokeWidth": 2, "strokeDash": [10, 5], "clip": true},
      "encoding": {
        "x": {"field": "f", "type": "quantitative", "scale": {"domain": [0, 0.85], "nice": false, "zero": false},
          "axis": {"orient": "top", "offset": 63, "values": [0, 0.1, 0.2, 0.3, 0.4, 0.5], "grid": false, "domain": false,
            "ticks": true, "tickSize": 6, "tickColor": "black", "tickWidth": 1.5,
            "labelExpr": "'.' + toString(round(datum.value * 10))", "labelPadding": 6, "labelBaseline": "alphabetic", "labelFontSize": 19,
            "labelAlign": {"condition": [{"test": "datum.value === 0", "value": "left"}, {"test": "datum.value > 0.45", "value": "right"}], "value": "center"},
            "title": null}},
        "y": {"field": "d", "type": "quantitative"},
        "detail": {"field": "s", "type": "nominal"},
        "order": {"field": "d", "sort": "descending"}
      }
    },
    {
      "data": {"name": "rf"},
      "mark": {"type": "line", "color": "#008080", "strokeWidth": 1.6, "clip": true},
      "encoding": {
        "x": {"field": "r", "type": "quantitative", "scale": {"domain": [0, 34], "reverse": true, "nice": false, "zero": false},
          "axis": {"orient": "top", "offset": 63, "values": [0, 2, 4, 6, 8, 10], "grid": false, "domain": false,
            "ticks": true, "tickSize": 6, "tickColor": "black", "tickWidth": 1.5,
            "labelPadding": 6, "labelBaseline": "alphabetic", "labelFontSize": 19,
            "labelAlign": {"condition": [{"test": "datum.value === 10", "value": "left"}, {"test": "datum.value === 0", "value": "right"}], "value": "center"},
            "title": null}},
        "y": {"field": "d", "type": "quantitative"},
        "order": {"field": "d", "sort": "descending"}
      }
    }
  ],
  "resolve": {"scale": {"x": "independent"}, "axis": {"x": "independent"}}
}
